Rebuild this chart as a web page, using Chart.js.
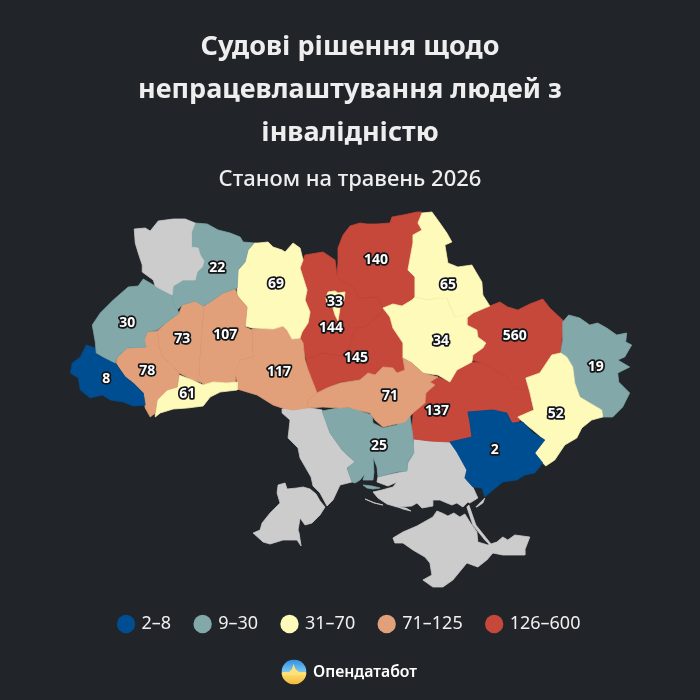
<!DOCTYPE html>
<html>
<head>
<meta charset="utf-8">
<style>
  html, body { margin: 0; background: #212429; }
  canvas { display: block; }
</style>
</head>
<body>
<canvas id="map" width="700" height="700"></canvas>
<script src="https://cdn.jsdelivr.net/npm/chart.js@4"></script>
<script>
// ─── Text ────────────────────────────────────────────────────
const titleLines = ['Судові рішення щодо', 'непрацевлаштування людей з', 'інвалідністю'];
const subtitleText = 'Станом на травень 2026';
const brandName = 'Опендатабот';

// ─── Legend bins ─────────────────────────────────────────────
const binLabels = ['2–8', '9–30', '31–70', '71–125', '126–600'];
const binMax    = [8, 30, 70, 125, 600];
const binFill   = ['#004e92', '#82a8aa', '#fefab9', '#e2a07a', '#c6483a'];
const binEdge   = ['#004b8c', '#7fa4a6', '#f7f2b3', '#dd9c77', '#c14639'];
const noDataFill = '#cccccc';

// ─── Outlines, in map units ──────────────────────────────────
const volyn = [[134,229],[145,228],[150,231],[158,221],[173,219],[185,219],[195,223],[191,233],[191,247],[198,248],[200,255],[204,261],[202,267],[197,272],[195,280],[183,280],[173,286],[172,295],[162,290],[155,286],[153,280],[142,272],[142,265],[138,253],[135,243]];
const rivne = [[195,223],[207,224],[218,230],[230,233],[240,237],[243,242],[254,243],[248,250],[245,262],[238,270],[237,288],[223,293],[210,302],[203,306],[195,301],[182,305],[177,310],[173,303],[172,295],[173,286],[183,280],[195,280],[197,272],[204,261],[200,255],[198,248],[191,247],[191,233]];
const lviv = [[143,279],[155,286],[162,290],[172,295],[173,303],[179,313],[167,322],[157,330],[147,332],[144,340],[146,347],[127,348],[117,357],[115,363],[103,357],[96,353],[95,342],[92,325],[100,313],[113,300],[128,287],[138,286]];
const zakarpattia = [[86,345],[95,348],[97,355],[115,363],[125,377],[133,383],[143,393],[145,405],[133,406],[123,402],[110,400],[102,395],[90,398],[80,390],[78,378],[70,373],[72,363],[80,357]];
const frankivsk = [[116,363],[117,357],[127,348],[146,347],[143,340],[147,332],[157,331],[159,347],[162,357],[170,363],[179,373],[177,387],[167,390],[157,400],[155,413],[150,417],[145,408],[143,393],[133,383],[125,377]];
const chernivtsi = [[179,375],[192,380],[203,385],[213,382],[227,383],[237,382],[237,390],[220,392],[210,397],[203,406],[187,408],[173,409],[160,413],[155,417],[155,403],[163,390],[177,387]];
const ternopil = [[157,331],[167,322],[179,313],[182,305],[195,301],[204,306],[202,327],[200,353],[199,373],[203,383],[192,380],[179,373],[170,363],[162,357],[159,347]];
const khmelnytskyi = [[204,306],[210,302],[223,293],[235,289],[238,297],[247,307],[245,327],[252,330],[253,357],[240,360],[236,372],[235,383],[227,383],[213,382],[203,385],[199,373],[200,353],[202,327]];
const zhytomyr = [[258,243],[268,242],[273,247],[282,250],[285,252],[293,243],[300,248],[303,260],[300,268],[307,290],[305,300],[310,312],[308,323],[302,332],[300,338],[292,339],[287,330],[283,326],[273,329],[252,328],[245,326],[247,307],[237,295],[237,287],[238,270],[245,262],[248,250],[254,243]];
const vinnytsia = [[252,329],[273,329],[283,326],[287,330],[292,339],[300,338],[303,343],[305,360],[308,370],[317,393],[308,400],[307,408],[293,410],[282,408],[273,405],[257,395],[237,389],[237,382],[235,372],[240,360],[253,357]];
const odesaNorth = [[282,409],[300,406],[322,410],[330,433],[342,450],[355,462],[347,468],[352,482],[340,485],[333,500],[327,506],[320,493],[313,486],[311,477],[300,458],[298,448],[288,438],[290,420],[282,413]];
const odesaSouth = [[278,485],[285,483],[287,489],[297,488],[303,487],[310,489],[316,494],[320,501],[325,507],[320,515],[312,523],[305,525],[300,518],[298,530],[299,533],[301,546],[297,540],[283,540],[270,544],[263,542],[253,533],[260,530],[262,523],[270,513],[280,503],[277,493]];
const kirovohrad = [[308,400],[317,393],[327,388],[340,383],[360,380],[368,373],[375,375],[383,367],[393,368],[397,373],[405,370],[403,358],[412,363],[423,373],[438,377],[430,382],[435,385],[426,393],[425,403],[413,413],[405,422],[383,427],[375,420],[370,413],[358,410],[348,407],[340,408],[323,407],[307,408]];
const mykolaiv = [[322,411],[343,407],[355,408],[363,412],[372,415],[373,423],[383,428],[397,425],[400,418],[410,416],[413,437],[414,453],[408,462],[407,471],[397,472],[378,477],[377,467],[373,457],[374,472],[373,480],[363,480],[365,474],[360,480],[355,483],[352,482],[347,468],[355,462],[342,450],[330,433]];
const kinburn = [[363,485],[372,486],[380,488],[373,489],[367,488]];
const kherson = [[414,439],[413,455],[408,463],[407,471],[397,473],[378,477],[377,482],[388,486],[397,482],[393,487],[382,490],[373,492],[378,498],[387,504],[397,507],[412,506],[417,503],[422,508],[433,506],[433,500],[440,500],[447,503],[452,505],[457,503],[463,507],[468,502],[470,503],[478,498],[473,487],[465,478],[467,470],[457,452],[450,442],[430,441]];
const crimea = [[393,538],[403,532],[417,526],[433,517],[437,511],[442,513],[448,516],[454,513],[460,517],[465,514],[470,522],[477,532],[478,542],[488,545],[497,542],[503,537],[508,540],[515,535],[530,537],[525,550],[525,555],[503,555],[493,553],[487,560],[478,567],[467,563],[453,580],[443,587],[433,587],[423,580],[432,575],[430,563],[425,557],[413,550],[403,543],[395,543]];
const arabatSpit = [[469,505],[476,525],[488,540],[492,545],[490,545],[485,540],[473,525],[467,507]];
const obytichnaSpit = [[476,507],[485,498],[483,503],[477,507]];
const tendraSpit = [[365,499],[375,503],[383,505],[374,503]];
const dzharylhachIsland = [[398,507],[406,508],[411,511],[403,509]];
const zaporizhzhia = [[468,412],[480,411],[493,410],[507,413],[512,423],[523,422],[533,433],[545,440],[535,453],[543,463],[535,473],[525,475],[517,480],[503,482],[493,490],[485,497],[482,488],[473,487],[465,478],[467,470],[457,452],[450,442],[472,437],[470,422]];
const dnipro = [[425,403],[426,393],[435,385],[430,382],[438,377],[450,382],[457,370],[472,362],[482,363],[508,377],[525,387],[530,390],[533,410],[517,423],[512,423],[507,413],[493,410],[480,411],[468,412],[470,422],[472,437],[450,442],[430,441],[414,439],[411,435],[413,417],[413,413]];
const kharkiv = [[467,318],[473,313],[490,306],[500,302],[508,307],[518,310],[530,304],[543,299],[550,308],[564,321],[562,340],[561,354],[552,355],[540,373],[526,378],[530,390],[513,388],[508,377],[482,363],[472,360],[473,355],[483,348],[486,343],[478,337],[477,330],[467,325]];
const luhansk = [[569,315],[580,318],[590,325],[598,323],[607,328],[617,335],[627,333],[626,342],[632,345],[625,357],[618,360],[630,367],[618,373],[619,382],[630,393],[623,407],[613,417],[602,417],[602,410],[590,403],[580,397],[575,383],[573,367],[567,357],[561,353],[563,340],[563,322]];
const donetsk = [[552,355],[561,353],[567,357],[573,367],[575,383],[580,397],[590,403],[602,410],[603,417],[592,420],[582,428],[577,438],[565,445],[555,460],[546,466],[543,463],[535,453],[545,440],[533,430],[523,422],[518,417],[534,410],[530,392],[526,378],[540,373]];
const poltava = [[383,308],[393,304],[402,306],[412,300],[415,297],[428,300],[438,298],[447,298],[455,317],[467,313],[473,313],[467,318],[467,325],[477,330],[478,337],[486,343],[483,348],[473,355],[472,362],[457,370],[450,382],[438,375],[423,373],[412,363],[403,358],[403,343],[393,328],[390,317]];
const sumy = [[422,213],[432,212],[440,223],[447,233],[452,242],[445,245],[448,263],[458,267],[472,265],[482,282],[483,295],[490,306],[473,313],[455,317],[447,298],[438,298],[428,300],[415,297],[415,277],[408,270],[413,243],[413,235],[422,230],[418,223]];
const chernihiv = [[422,212],[418,223],[422,230],[413,235],[413,243],[408,270],[415,277],[415,297],[412,300],[402,306],[393,304],[383,308],[377,297],[360,298],[353,287],[340,280],[337,275],[338,262],[338,248],[343,235],[350,226],[360,223],[367,224],[377,224],[390,223],[392,217],[403,215],[417,212]];
const kyivOblast = [[303,260],[305,255],[323,252],[335,260],[337,275],[340,280],[353,287],[360,298],[377,297],[383,308],[381,313],[365,327],[355,328],[350,345],[347,357],[323,353],[306,359],[303,343],[300,338],[302,332],[308,323],[310,312],[305,300],[307,290],[300,268]];
const kyivCity = [[328,292],[335,291],[338,293],[345,292],[344,300],[340,308],[338,321],[335,315],[333,308],[327,305],[326,298]];
const cherkasy = [[306,359],[323,353],[347,357],[350,345],[355,328],[365,327],[381,313],[383,308],[390,317],[393,328],[403,343],[403,358],[405,370],[397,373],[393,368],[383,367],[375,375],[368,373],[360,380],[340,382],[327,388],[317,393],[308,370]];

// ─── Values (first listed is painted on top) ─────────────────
const regions = [kyivCity, volyn, rivne, lviv, zakarpattia, frankivsk, chernivtsi, ternopil, khmelnytskyi, zhytomyr, vinnytsia, kirovohrad, mykolaiv, kinburn, zaporizhzhia, donetsk, luhansk, sumy, poltava, kharkiv, dnipro, chernihiv, kyivOblast, cherkasy, odesaNorth, odesaSouth, kherson, crimea, arabatSpit, obytichnaSpit, tendraSpit, dzharylhachIsland];
const regionValues = [33, null, 22, 30, 8, 78, 61, 73, 107, 69, 117, 71, 25, 25, 2, 52, 19, 65, 34, 560, 137, 140, 144, 145, null, null, null, null, null, null, null, null];

// Value labels: value and where it sits on the map
const labelValues = [22, 69, 140, 33, 65, 30, 73, 107, 144, 34, 560, 19, 78, 145, 117, 71, 8, 61, 137, 52, 25, 2];
const labelX = [217, 276, 376, 335, 448, 127, 182, 225, 331, 441, 515, 596, 147, 356, 279, 390, 106, 187, 437, 556, 379, 495];
const labelY = [268, 284, 260, 302, 285, 323, 339, 335, 328, 341, 336, 367, 371, 358, 372, 396, 379, 394, 411, 414, 446, 450];

const FONT = '"Noto Sans", "Open Sans", sans-serif';

function binIndex(value) {
  return binMax.findIndex((m) => value <= m);
}

// ─── Plugins ─────────────────────────────────────────────────
const valueLabels = {
  id: 'valueLabels',
  afterDatasetsDraw(chart) {
    const { ctx, scales: { x, y } } = chart;
    ctx.save();
    ctx.font = `700 14px ${FONT}`;
    ctx.textAlign = 'center';
    ctx.textBaseline = 'middle';
    ctx.lineJoin = 'round';
    labelValues.forEach((v, i) => {
      const px = x.getPixelForValue(labelX[i]);
      const py = y.getPixelForValue(labelY[i]);
      ctx.lineWidth = 3.5;
      ctx.strokeStyle = '#14161a';
      ctx.strokeText(v, px, py);
      ctx.fillStyle = '#ffffff';
      ctx.fillText(v, px, py);
    });
    ctx.restore();
  },
};

// Logo + brand name under the legend
const brandFooter = {
  id: 'brandFooter',
  afterDraw(chart) {
    const { ctx } = chart;
    const cx = 294, cy = 672, r = 12.5;
    ctx.save();
    ctx.beginPath();
    ctx.arc(cx, cy, r, 0, Math.PI * 2);
    ctx.clip();
    const sky = ctx.createLinearGradient(0, cy - r, 0, cy);
    sky.addColorStop(0, '#2f8fe0');
    sky.addColorStop(1, '#7cc8f2');
    ctx.fillStyle = sky;
    ctx.fillRect(cx - r, cy - r, r * 2, r);
    const sun = ctx.createLinearGradient(0, cy, 0, cy + r);
    sun.addColorStop(0, '#fde27a');
    sun.addColorStop(1, '#f4b93a');
    ctx.fillStyle = sun;
    ctx.fillRect(cx - r, cy, r * 2, r);
    ctx.beginPath();
    ctx.moveTo(cx - r, cy + 1);
    ctx.lineTo(cx - 5, cy);
    ctx.lineTo(cx - 2, cy - 3);
    ctx.lineTo(cx - 0.5, cy - 8);
    ctx.lineTo(cx + 1.5, cy - 3);
    ctx.lineTo(cx + 5, cy);
    ctx.lineTo(cx + r, cy + 1);
    ctx.lineTo(cx + r, cy + 3);
    ctx.lineTo(cx - r, cy + 3);
    ctx.closePath();
    ctx.fillStyle = '#fde27a';
    ctx.fill();
    ctx.restore();

    ctx.save();
    ctx.font = `600 15.8px ${FONT}`;
    ctx.fillStyle = '#ffffff';
    ctx.textAlign = 'left';
    ctx.textBaseline = 'middle';
    ctx.fillText(brandName, 313, 672);
    ctx.restore();
  },
};

// ─── Chart ───────────────────────────────────────────────────
const datasets = regions.map((outline, i) => {
  const v = regionValues[i];
  const b = v === null ? -1 : binIndex(v);
  return {
    data: [...outline, outline[0]].map(([x, y]) => ({ x, y })),
    showLine: true,
    fill: 'shape',
    tension: 0,
    pointRadius: 0,
    borderWidth: 0.8,
    backgroundColor: b < 0 ? noDataFill : binFill[b],
    borderColor: b < 0 ? noDataFill : binEdge[b],
    clip: false,
  };
});

const chart = new Chart(document.getElementById('map'), {
  type: 'scatter',
  data: { datasets },
  plugins: [valueLabels, brandFooter],
  options: {
    responsive: false,
    animation: false,
    events: [],
    layout: { padding: { top: 26, bottom: 57 } },
    scales: {
      x: { type: 'linear', display: false, min: 0, max: 700 },
      y: { type: 'linear', display: false, reverse: true, min: 200, max: 600 },
    },
    plugins: {
      tooltip: { enabled: false },
      title: {
        display: true,
        text: titleLines,
        color: '#eeeeee',
        font: { family: FONT, size: 27, weight: '700', lineHeight: 1.59 },
        padding: { top: 0, bottom: 8 },
      },
      subtitle: {
        display: true,
        text: subtitleText,
        color: '#eeeeee',
        font: { family: FONT, size: 22, weight: '500', lineHeight: 1.5 },
        padding: { top: 0, bottom: 6 },
      },
      legend: {
        display: true,
        position: 'bottom',
        labels: {
          color: '#f0f0f0',
          font: { family: FONT, size: 18 },
          usePointStyle: true,
          boxWidth: 13,
          boxHeight: 13,
          padding: 25,
          generateLabels: () => binLabels.map((text, i) => ({
            text,
            fillStyle: binFill[i],
            strokeStyle: binFill[i],
            fontColor: '#f0f0f0',
            lineWidth: 0,
            pointStyle: 'circle',
            hidden: false,
          })),
        },
      },
    },
  },
});

// Scale units = canvas pixels, so the outlines keep their proportions
const area = chart.chartArea;
chart.options.scales.x.min = area.left;
chart.options.scales.x.max = area.right;
chart.options.scales.y.min = area.top;
chart.options.scales.y.max = area.bottom;
chart.update('none');
</script>
</body>
</html>
